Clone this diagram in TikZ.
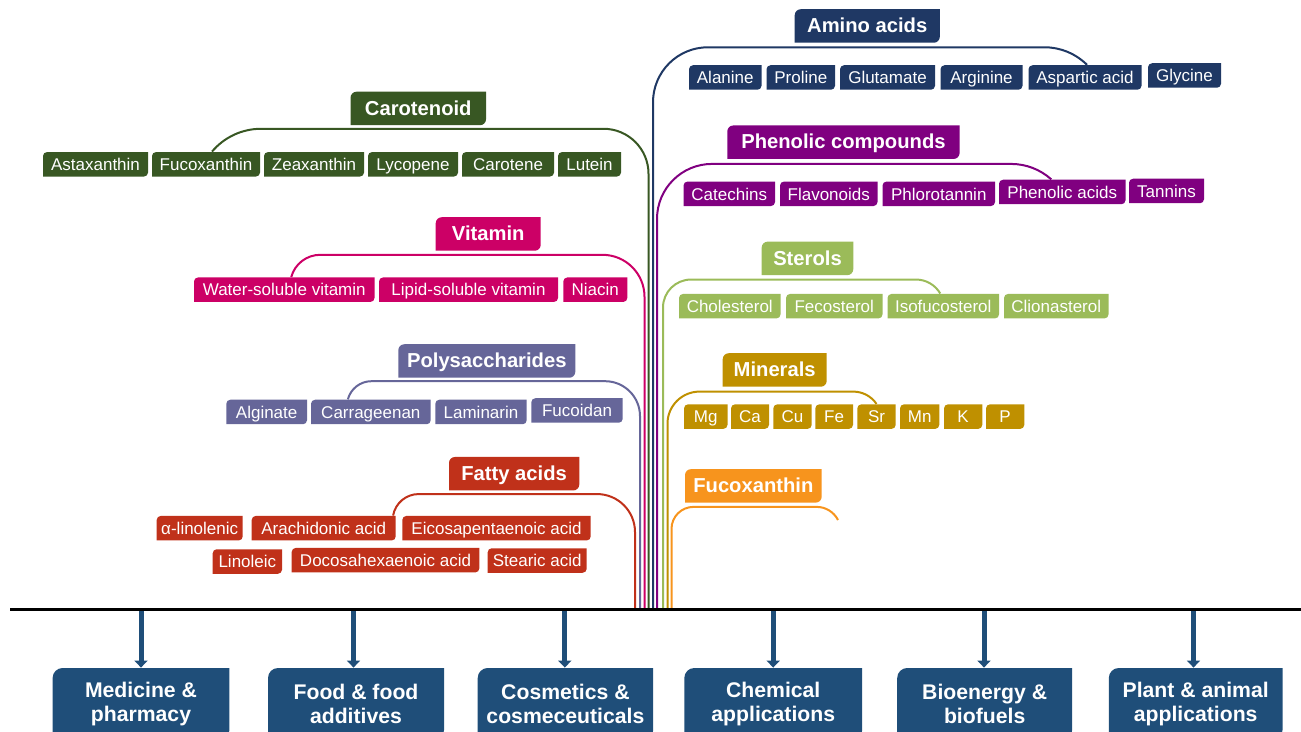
\documentclass[tikz,border=0pt]{standalone}
\usepackage{fontspec}
\setmainfont{Liberation Sans}
\usetikzlibrary{arrows.meta}

\definecolor{amino}{HTML}{1F3864}
\definecolor{phenolic}{HTML}{800080}
\definecolor{sterol}{HTML}{9BBB59}
\definecolor{mineral}{HTML}{BF9000}
\definecolor{fucox}{HTML}{F7941D}
\definecolor{carot}{HTML}{385723}
\definecolor{vitamin}{HTML}{CC0066}
\definecolor{polysac}{HTML}{666699}
\definecolor{fatty}{HTML}{C0311A}
\definecolor{appblue}{HTML}{1F4E79}

\tikzset{
  corner/.store in=\cornerr, corner=2pt,
  diag/.style={inner sep=0pt, text=white,
    path picture={\fill[#1] (path picture bounding box.south west)
      -- ([yshift=-\cornerr]path picture bounding box.north west)
      arc[start angle=180, end angle=90, radius=\cornerr]
      -- (path picture bounding box.north east)
      -- ([yshift=\cornerr]path picture bounding box.south east)
      arc[start angle=0, end angle=-90, radius=\cornerr] -- cycle;}},
  chip/.style={diag=#1, minimum height=12.25pt, text height=7.1pt, text depth=0.8pt,
    font=\fontsize{8.5}{10}\selectfont},
  head/.style={diag=#1, corner=3pt, minimum height=16.75pt, text height=7.9pt, text depth=1.2pt,
    font=\bfseries\fontsize{10.1}{11.5}\selectfont},
  app/.style={diag=appblue, corner=5pt, minimum height=36pt, align=center,
    font=\bfseries\fontsize{10.6}{12}\selectfont},
  bracket/.style={draw=#1, line width=1pt},
  apparrow/.style={draw=appblue, line width=2.5pt, -{Triangle[width=6.5pt, length=3.5pt]}},
}

\begin{document}
\begin{tikzpicture}[x=0.5pt, y=-0.5pt]
\useasboundingbox (0,0) rectangle (1301,732);
\clip (0,0) rectangle (1301,732);

% Carotenoid
\node[head=carot, minimum width=67.75pt] (carH) at (418.25,108.5) {Carotenoid};
\foreach \n/\a/\b/\t in {1/43/148/Astaxanthin, 2/152/260/Fucoxanthin, 3/264/364/Zeaxanthin,
    4/368/458/Lycopene, 5/462/554/Carotene, 6/558/621/Lutein} {
  \pgfmathsetmacro{\w}{(\b-\a)/2}
  \node[chip=carot, minimum width=\w pt] (car\n) at ({(\a+\b)/2},164.3) {\t};
}
\coordinate (carB) at (648.5,609);
\draw[bracket=carot] ([xshift=3pt]car2.north) arc[start angle=220, end angle=270, radius=64]
  [rounded corners=22.5pt] -| (carB);

% Vitamin
\node[head=vitamin, minimum width=52.5pt] (vitH) at (488.2,234) {Vitamin};
\foreach \n/\a/\b/\t in {1/194/374.5/Water-soluble vitamin, 2/379/558/Lipid-soluble vitamin,
    3/563.3/627.3/Niacin} {
  \pgfmathsetmacro{\w}{(\b-\a)/2}
  \node[chip=vitamin, minimum width=\w pt] (vit\n) at ({(\a+\b)/2},289.7) {\t};
}
\coordinate (vitB) at (644.5,609);
\draw[bracket=vitamin] ([xshift=3.5pt]vit1.north) arc[start angle=195, end angle=270, radius=30]
  [rounded corners=21pt] -| (vitB);

% Polysaccharides
\node[head=polysac, minimum width=88.5pt] (psH) at (486.8,361) {Polysaccharides};
\foreach \n/\a/\b/\y/\t in {1/226.3/307/412/Alginate, 2/311/430.7/412/Carrageenan,
    3/435.3/526.7/412/Laminarin, 4/531.3/622.7/410.5/Fucoidan} {
  \pgfmathsetmacro{\w}{(\b-\a)/2}
  \node[chip=polysac, minimum width=\w pt] (ps\n) at ({(\a+\b)/2},\y) {\t};
}
\coordinate (psB) at (640,609);
\draw[bracket=polysac] ([xshift=-11.5pt]ps2.north) arc[start angle=195, end angle=270, radius=24.5]
  [rounded corners=17.5pt] -| (psB);

% Fatty acids
\node[head=fatty, minimum width=65.15pt] (faH) at (514.15,473.7) {Fatty acids};
\foreach \n/\a/\b/\y/\t in {1/156.7/242.7/528.2/α-linolenic, 2/251.7/395.7/528.2/Arachidonic acid,
    3/402.3/590.7/528.2/Eicosapentaenoic acid, 4/212.7/282/561.5/Linoleic,
    5/291.7/479.3/560.2/Docosahexaenoic acid, 6/487.7/586.7/560.5/Stearic acid} {
  \pgfmathsetmacro{\w}{(\b-\a)/2}
  \node[chip=fatty, minimum width=\w pt] (fa\n) at ({(\a+\b)/2},\y) {\t};
}
\coordinate (faB) at (635,609);
\draw[bracket=fatty] ([xshift=-1.5pt]fa2.north east) arc[start angle=190, end angle=270, radius=26]
  [rounded corners=19pt] -| (faB);

% Amino acids
\node[head=amino, minimum width=72.55pt] (aaH) at (867.25,26) {Amino acids};
\foreach \n/\a/\b/\y/\t in {1/689/761.5/77.5/Alanine, 2/766.5/835/77.5/Proline,
    3/840/935/77.5/Glutamate, 4/940.5/1022.5/77.5/Arginine, 5/1028.5/1141.5/77.5/Aspartic acid,
    6/1148/1221/75.5/Glycine} {
  \pgfmathsetmacro{\w}{(\b-\a)/2}
  \node[chip=amino, minimum width=\w pt] (aa\n) at ({(\a+\b)/2},\y) {\t};
}
\coordinate (aaB) at (653,609);
\draw[bracket=amino] ([xshift=1pt]aa5.north) arc[start angle=315, end angle=270, radius=60]
  [rounded corners=27.5pt] -| (aaB);

% Phenolic compounds
\node[head=phenolic, minimum width=116.15pt] (phH) at (843.45,142.2) {Phenolic compounds};
\foreach \n/\a/\b/\y/\t in {1/683.5/775/193.8/Catechins, 2/780/877.5/193.8/Flavonoids,
    3/882.5/995/193.8/Phlorotannin, 4/999/1125.5/192/Phenolic acids, 5/1129/1204/191/Tannins} {
  \pgfmathsetmacro{\w}{(\b-\a)/2}
  \node[chip=phenolic, minimum width=\w pt] (ph\n) at ({(\a+\b)/2},\y) {\t};
}
\coordinate (phB) at (657,609);
\draw[bracket=phenolic] ([xshift=-5.5pt]ph4.north) arc[start angle=312, end angle=270, radius=60]
  [rounded corners=27.5pt] -| (phB);

% Sterols
\node[head=sterol, minimum width=45.8pt] (stH) at (807.5,258.4) {Sterols};
\foreach \n/\a/\b/\t in {1/679/780.5/Cholesterol, 2/786/882.5/Fecosterol,
    3/887.5/999/Isofucosterol, 4/1004/1108.5/Clionasterol} {
  \pgfmathsetmacro{\w}{(\b-\a)/2}
  \node[chip=sterol, minimum width=\w pt] (st\n) at ({(\a+\b)/2},306.2) {\t};
}
\coordinate (stB) at (663,609);
\draw[bracket=sterol] ([xshift=-1.5pt]st3.north) arc[start angle=330, end angle=270, radius=28]
  [rounded corners=14pt] -| (stB);

% Minerals
\node[head=mineral, minimum width=52pt] (mnH) at (774.7,370) {Minerals};
\foreach \n/\a/\b/\t in {1/684/727.5/Mg, 2/731/769/Ca, 3/773.3/811.7/Cu, 4/815.3/853/Fe,
    5/857.3/895.7/Sr, 6/900/939.3/Mn, 7/944/982.3/K, 8/986/1024.3/P} {
  \pgfmathsetmacro{\w}{(\b-\a)/2}
  \node[chip=mineral, minimum width=\w pt] (mn\n) at ({(\a+\b)/2},416.6) {\t};
}
\coordinate (mnB) at (667.5,609);
\draw[bracket=mineral] (mn5.north) arc[start angle=326, end angle=270, radius=28]
  [rounded corners=16pt] -| (mnB);

% Fucoxanthin
\node[head=fucox, minimum width=68.35pt] (fxH) at (753.35,485.9) {Fucoxanthin};
\coordinate (fxE) at (838,520);
\coordinate (fxB) at (671.5,609);
\draw[bracket=fucox] (fxE) arc[start angle=333, end angle=270, radius=24]
  [rounded corners=11pt] -| (fxB);

% Base line
\draw[line width=1.5pt] (10,609.5) -- (1301,609.5);

% Applications
\foreach \i/\a/\b/\x/\t in {1/52.6/229.4/141/{Medicine \&\\pharmacy},
    2/268/444/353.5/{Food \& food\\additives},
    3/477.7/653.2/564.8/{Cosmetics \&\\cosmeceuticals},
    4/684.3/862.2/773.2/{Chemical\\applications},
    5/897.2/1072.1/984/{Bioenergy \&\\biofuels},
    6/1108.8/1282.5/1193.5/{Plant \& animal\\applications}} {
  \pgfmathsetmacro{\w}{(\b-\a)/2}
  \node[app, minimum width=\w pt] (app\i) at ({(\a+\b)/2},704) {\t};
  \coordinate (ar\i) at (\x,611);
  \draw[apparrow] (ar\i) -- (ar\i |- app\i.north);
}
\end{tikzpicture}
\end{document}
